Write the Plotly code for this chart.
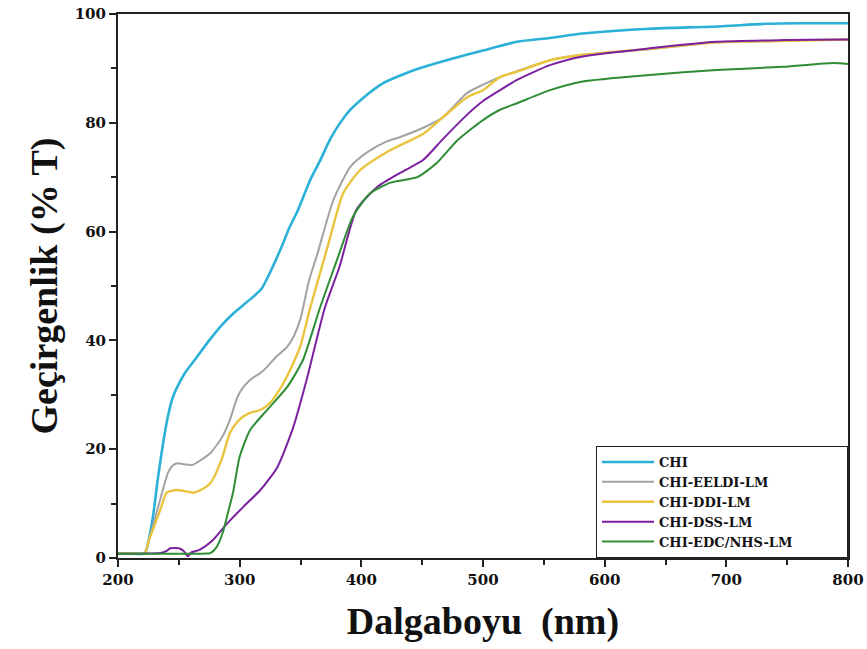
import plotly.graph_objects as go

# ---------------- data ----------------
chi_x = [200, 210, 222, 225, 229, 233, 237, 241, 245, 250, 255, 265, 275, 284, 295, 303, 311,
         318, 325, 335, 341, 347, 358, 366, 374, 382, 391, 400, 418, 432, 446, 473, 500, 528,
         555, 582, 637, 692, 733, 760, 800]
chi_y = [0.8, 0.8, 0.9, 3, 8, 15, 21, 26, 29.5, 32, 34, 37, 40, 42.5, 45, 46.5, 48,
         49.5, 52.5, 57.5, 60.8, 63.5, 69.5, 73, 76.8, 79.8, 82.4, 84.3, 87.3, 88.7, 89.9, 91.7, 93.3, 94.9,
         95.6, 96.4, 97.3, 97.7, 98.2, 98.3, 98.3]

eeldi_x = [200, 210, 222, 225, 230, 235, 241, 245, 249, 255, 261, 268, 276, 285, 292, 298, 303,
           310, 317, 322, 330, 339, 345, 350, 357, 364, 377, 391, 405, 420, 432, 450, 467, 487,
           500, 514, 528, 555, 582, 637, 692, 733, 760, 800]
eeldi_y = [0.8, 0.8, 0.9, 3, 7, 11, 15.6, 17, 17.4, 17.2, 17.1, 18, 19.3, 22, 25.4, 29.5, 31.4,
           33, 34, 35, 37, 38.8, 41, 44, 51, 56, 65.8, 71.9, 74.6, 76.5, 77.4, 79, 81, 85.5,
           87, 88.4, 89.5, 91.5, 92.5, 93.5, 94.8, 95, 95.2, 95.3]

ddi_x = [200, 210, 222, 225, 230, 235, 240, 248, 255, 262, 268, 276, 285, 292, 298, 303, 310,
         317, 325, 331, 338, 344, 350, 358, 372, 385, 399, 424, 451, 467, 487, 500, 514, 528,
         555, 582, 637, 692, 733, 800]
ddi_y = [0.8, 0.8, 0.9, 3, 6, 9, 12, 12.5, 12.3, 12, 12.5, 13.8, 18, 23, 25, 26, 26.8,
         27.2, 28.5, 30.3, 33, 35.8, 39, 46, 57, 67, 71.3, 75, 78, 81, 84.7, 86, 88.4, 89.4,
         91.5, 92.5, 93.6, 94.8, 95, 95.3]

dss_x = [200, 220, 235, 240, 243, 250, 254, 257.5, 260, 267, 278, 290, 303, 317, 331, 344, 355,
         370, 382, 396, 413, 432, 451, 467, 487, 500, 514, 528, 555, 582, 637, 692, 747, 800]
dss_y = [0.8, 0.8, 0.9, 1.3, 1.8, 1.8, 1.3, 0.3, 1.0, 1.5, 3.3, 6.4, 9.4, 12.5, 16.7, 24, 32.7,
         46, 53.5, 64, 68.2, 70.8, 73.2, 77, 81.5, 84, 86, 87.9, 90.6, 92.2, 93.7, 94.9, 95.2, 95.3]

edc_x = [200, 240, 270, 276, 281, 286, 290, 294.5, 300, 308.5, 322.5, 339, 352, 366, 380, 393,
         407, 424, 446, 462, 479, 500, 514, 528, 555, 582, 637, 692, 747, 788, 800]
edc_y = [0.8, 0.8, 0.8, 0.9, 2, 4.6, 8, 12, 18.6, 23.5, 27.2, 31.4, 36.4, 46, 54.8, 62.7,
         67, 69, 70, 72.6, 76.8, 80.5, 82.4, 83.6, 86, 87.6, 88.8, 89.7, 90.3, 91, 90.8]

series_names = ["CHI", "CHI-EELDI-LM", "CHI-DDI-LM", "CHI-DSS-LM", "CHI-EDC/NHS-LM"]
series_x = [chi_x, eeldi_x, ddi_x, dss_x, edc_x]
series_y = [chi_y, eeldi_y, ddi_y, dss_y, edc_y]
colors = ["#2bb0d8", "#a3a3a3", "#e9c43c", "#7b209f", "#2f8d34"]
widths = [2.6, 2.0, 2.4, 2.0, 2.0]

x_ticks = [200, 300, 400, 500, 600, 700, 800]
y_ticks = [0, 20, 40, 60, 80, 100]

# ---------------- figure ----------------
fig = go.Figure()
pad = "\u00a0" * 12  # widens the legend box like the reference
for i, (name, xs, ys, c, w) in enumerate(zip(series_names, series_x, series_y, colors, widths)):
    label = "<b>%s</b>" % name + (pad if i == len(series_names) - 1 else "")
    fig.add_trace(go.Scatter(x=xs, y=ys, mode="lines", name=label,
                             line=dict(color=c, width=w, shape="spline", smoothing=0.6)))

axis_common = dict(showline=True, linecolor="#222222", linewidth=2, mirror=True,
                   ticks="outside", tickcolor="#222222", tickwidth=2, ticklen=7,
                   showgrid=False, zeroline=False, automargin=False,
                   tickfont=dict(family="DejaVu Serif", size=15, color="#111111"))

fig.update_layout(
    width=867, height=649,
    margin=dict(l=118, r=19, t=14, b=91, autoexpand=False),
    paper_bgcolor="white", plot_bgcolor="white",
    showlegend=True,
    legend=dict(x=1, xanchor="right", y=0, yanchor="bottom",
                bgcolor="white", bordercolor="#222222", borderwidth=1,
                font=dict(family="DejaVu Serif", size=13, color="#111111"),
                itemwidth=52, tracegroupgap=0),
    font=dict(family="Liberation Serif", color="#111111"),
)

fig.update_xaxes(range=[200, 800], tickvals=x_ticks,
                 ticktext=["<b>%d</b>" % v for v in x_ticks],
                 minor=dict(ticks="outside", dtick=50, ticklen=5, tickwidth=2, tickcolor="#222222"),
                 title=dict(text="<b>Dalgaboyu  (nm)</b>",
                            font=dict(family="Liberation Serif", size=38, color="#111111"),
                            standoff=19),
                 **axis_common)
fig.update_yaxes(range=[0, 100], tickvals=y_ticks,
                 ticktext=["<b>%d</b>" % v for v in y_ticks],
                 minor=dict(ticks="outside", dtick=10, ticklen=5, tickwidth=2, tickcolor="#222222"),
                 title=dict(text="<b>Geçirgenlik (% T)</b>",
                            font=dict(family="Liberation Serif", size=38, color="#111111"),
                            standoff=5),
                 **axis_common)

fig.write_html("out.html", config={"displayModeBar": False},
               post_script="document.body.style.margin='0';")
